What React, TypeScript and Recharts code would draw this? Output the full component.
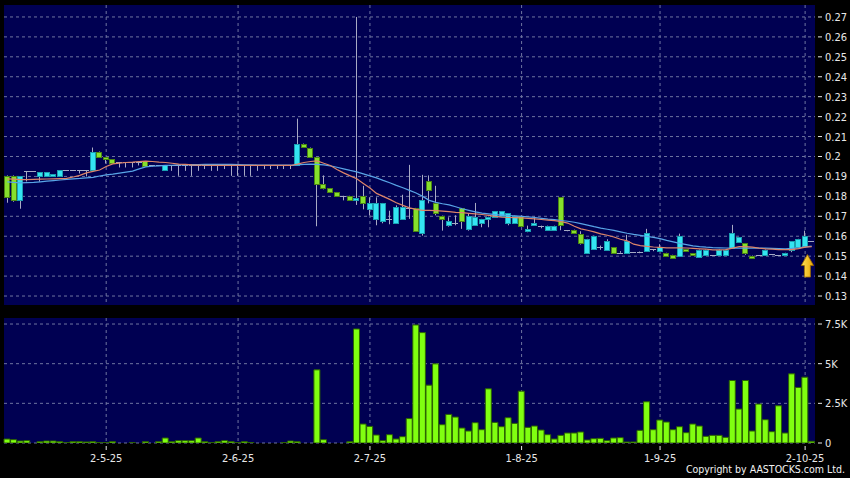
import React from 'react';
import { ComposedChart, BarChart, Bar, Line, XAxis, YAxis, CartesianGrid, ReferenceDot } from 'recharts';

// daily OHLC (index 0 = first candle on the left)
const opens = [
  0.190, 0.190, 0.178, 0.1925, 0.1925, 0.190, 0.190, 0.190, 0.190, 0.193,
  0.193, 0.193, 0.193, 0.193, 0.2025, 0.1995, 0.1985, 0.197, 0.197, 0.197,
  0.197, 0.1975, 0.1955, 0.1955, 0.193, 0.1957, 0.1957, 0.1957, 0.1957, 0.1957,
  0.1957, 0.1957, 0.1957, 0.1957, 0.1957, 0.1957, 0.1957, 0.1957, 0.1957, 0.1957,
  0.1957, 0.1957, 0.1957, 0.1957, 0.1955, 0.2065, 0.2045, 0.1997, 0.1863, 0.1842,
  0.1822, 0.1803, 0.1803, 0.1783, 0.1802, 0.1735, 0.1687, 0.1678, 0.1685, 0.1667,
  0.1687, 0.174, 0.1742, 0.1617, 0.1875, 0.1765, 0.1703, 0.1657, 0.1668, 0.1742,
  0.1635, 0.1657, 0.1665, 0.1685, 0.1695, 0.1703, 0.1665, 0.1665, 0.1703, 0.1625,
  0.1655, 0.165, 0.1632, 0.1632, 0.1795, 0.163, 0.1633, 0.1612, 0.1517, 0.1537,
  0.1545, 0.1533, 0.1545, 0.1517, 0.1517, 0.1523, 0.1523, 0.1525, 0.1535, 0.1525,
  0.1517, 0.1507, 0.1503, 0.1535, 0.1515, 0.1495, 0.1507, 0.1507, 0.1507, 0.1507,
  0.1542, 0.1573, 0.1565, 0.1503, 0.1507, 0.1507, 0.151, 0.1507, 0.1507, 0.1533,
  0.1545, 0.1553, 0.1577,
];
const highs = [
  0.1905, 0.1905, 0.190, 0.1925, 0.1925, 0.192, 0.192, 0.191, 0.193, 0.193,
  0.193, 0.193, 0.193, 0.2045, 0.2025, 0.1995, 0.1985, 0.197, 0.197, 0.197,
  0.197, 0.1975, 0.1955, 0.1955, 0.1957, 0.1957, 0.1957, 0.1957, 0.1957, 0.1957,
  0.1957, 0.1957, 0.1957, 0.1957, 0.1957, 0.1957, 0.1957, 0.1957, 0.1957, 0.1957,
  0.1957, 0.1957, 0.1957, 0.1957, 0.219, 0.2065, 0.2045, 0.1997, 0.1905, 0.1842,
  0.1822, 0.1803, 0.1803, 0.270, 0.1853, 0.1795, 0.1795, 0.1767, 0.1728, 0.1755,
  0.1808, 0.1958, 0.1742, 0.1908, 0.1905, 0.1853, 0.1703, 0.1695, 0.1705, 0.1742,
  0.1712, 0.1767, 0.1687, 0.1698, 0.1725, 0.1725, 0.1715, 0.1703, 0.1703, 0.1653,
  0.1698, 0.1653, 0.1653, 0.1653, 0.1795, 0.163, 0.1633, 0.1625, 0.1587, 0.1603,
  0.1553, 0.1585, 0.1545, 0.1525, 0.1607, 0.1523, 0.1523, 0.1637, 0.1535, 0.156,
  0.1517, 0.1507, 0.1613, 0.1535, 0.1515, 0.1533, 0.1533, 0.1507, 0.1533, 0.1533,
  0.1657, 0.1595, 0.1565, 0.1503, 0.1507, 0.1533, 0.151, 0.1507, 0.1517, 0.1575,
  0.1587, 0.1628, 0.1577,
];
const lows = [
  0.1768, 0.1773, 0.1738, 0.1875, 0.1925, 0.1873, 0.190, 0.190, 0.190, 0.193,
  0.193, 0.1915, 0.190, 0.1925, 0.1995, 0.1965, 0.1965, 0.1945, 0.1945, 0.1945,
  0.1955, 0.195, 0.195, 0.1952, 0.1928, 0.1928, 0.1903, 0.1928, 0.1903, 0.1928,
  0.1937, 0.1928, 0.1928, 0.1937, 0.1903, 0.1903, 0.1903, 0.1903, 0.1928, 0.1937,
  0.1937, 0.1937, 0.1937, 0.1937, 0.1955, 0.2048, 0.1998, 0.165, 0.1835, 0.1822,
  0.1803, 0.178, 0.1783, 0.1757, 0.1735, 0.1705, 0.1655, 0.1665, 0.166, 0.1665,
  0.1687, 0.1687, 0.1625, 0.1603, 0.1765, 0.1705, 0.1628, 0.1648, 0.1655, 0.1637,
  0.1628, 0.1653, 0.1645, 0.1645, 0.1695, 0.170, 0.1655, 0.1665, 0.1653, 0.162,
  0.1653, 0.164, 0.1632, 0.1632, 0.163, 0.1625, 0.1615, 0.1558, 0.1517, 0.1537,
  0.1532, 0.1533, 0.1517, 0.1517, 0.1517, 0.1523, 0.1515, 0.1525, 0.1525, 0.1522,
  0.1503, 0.1493, 0.1503, 0.1525, 0.1507, 0.1495, 0.1507, 0.1507, 0.1507, 0.1507,
  0.1542, 0.1573, 0.1507, 0.1493, 0.1507, 0.1507, 0.151, 0.1507, 0.1507, 0.152,
  0.1545, 0.1553, 0.1577,
];
const closes = [
  0.1798, 0.178, 0.190, 0.1925, 0.1925, 0.192, 0.192, 0.191, 0.193, 0.193,
  0.193, 0.193, 0.193, 0.2025, 0.1995, 0.1985, 0.1965, 0.197, 0.197, 0.197,
  0.197, 0.1952, 0.1955, 0.1955, 0.1955, 0.1957, 0.1957, 0.1957, 0.1957, 0.1957,
  0.1957, 0.1957, 0.1957, 0.1957, 0.1957, 0.1957, 0.1957, 0.1957, 0.1957, 0.1957,
  0.1957, 0.1957, 0.1957, 0.1957, 0.2065, 0.2048, 0.1998, 0.1863, 0.1842, 0.1822,
  0.1803, 0.1803, 0.1783, 0.1792, 0.1765, 0.1767, 0.1767, 0.1767, 0.1685, 0.1745,
  0.1745, 0.174, 0.1625, 0.1783, 0.1833, 0.1718, 0.1687, 0.1675, 0.1668, 0.1675,
  0.1703, 0.1695, 0.1687, 0.1695, 0.1725, 0.1725, 0.1715, 0.1703, 0.1653, 0.1637,
  0.1667, 0.165, 0.1653, 0.1653, 0.1658, 0.163, 0.1615, 0.1565, 0.1587, 0.1603,
  0.1545, 0.1578, 0.1517, 0.1517, 0.1578, 0.1523, 0.1523, 0.1615, 0.1535, 0.1545,
  0.1503, 0.1493, 0.1603, 0.1525, 0.1507, 0.1533, 0.1533, 0.1507, 0.1533, 0.1533,
  0.1617, 0.1595, 0.1515, 0.1493, 0.1507, 0.1533, 0.151, 0.1507, 0.1517, 0.1575,
  0.1587, 0.1603, 0.1577,
];
const volumes = [
  250, 210, 125, 147, 0, 85, 125, 125, 85, 20,
  85, 85, 63, 85, 20, 20, 85, 0, 0, 20,
  0, 85, 0, 85, 315, 85, 147, 147, 147, 315,
  85, 20, 85, 147, 85, 20, 85, 20, 0, 0,
  0, 0, 20, 125, 85, 0, 0, 4611, 210, 0,
  0, 0, 85, 7189, 1195, 1048, 503, 147, 524, 252,
  398, 1540, 7441, 6959, 3647, 4989, 1153, 1803, 1635, 943,
  755, 1279, 838, 3416, 1300, 1027, 1593, 1237, 3269, 985,
  1069, 817, 524, 252, 482, 629, 629, 692, 189, 272,
  293, 147, 315, 335, 63, 63, 796, 2599, 838, 1446,
  1320, 838, 1027, 650, 1195, 1069, 419, 482, 482, 356,
  3940, 2138, 3940, 755, 2452, 1467, 713, 2347, 629, 4360,
  3500, 4150, 105,
];
// moving average lines as drawn (orange = short, blue = long)
const maShort = [
  0.1888, 0.1886, 0.1884, 0.1884, 0.1885, 0.1886, 0.1887, 0.1888, 0.1889, 0.1890,
  0.1897, 0.1905, 0.1918, 0.1925, 0.1932, 0.1950, 0.1963, 0.1967, 0.1970, 0.1972,
  0.1975, 0.1977, 0.1975, 0.1972, 0.1970, 0.1966, 0.1962, 0.1960, 0.1958, 0.1957,
  0.1956, 0.1955, 0.1955, 0.1955, 0.1955, 0.1955, 0.1955, 0.1955, 0.1955, 0.1955,
  0.1955, 0.1955, 0.1955, 0.1955, 0.1962, 0.1970, 0.1975, 0.1978, 0.1966, 0.1955,
  0.1935, 0.1918, 0.1903, 0.1888, 0.1865, 0.1842, 0.1815, 0.1800, 0.1785, 0.1768,
  0.1755, 0.1742, 0.1735, 0.1730, 0.1730, 0.1728, 0.1726, 0.1723, 0.1720, 0.1718,
  0.1715, 0.1712, 0.1709, 0.1705, 0.1700, 0.1696, 0.1694, 0.1693, 0.1692, 0.1690,
  0.1687, 0.1684, 0.1681, 0.1678, 0.1673, 0.1666, 0.1650, 0.1637, 0.1630, 0.1622,
  0.1612, 0.1605, 0.1596, 0.1585, 0.1577, 0.1560, 0.1553, 0.1549, 0.1546, 0.1544,
  0.1542, 0.1542, 0.1542, 0.1541, 0.1539, 0.1537, 0.1535, 0.1532, 0.1532, 0.1533,
  0.1540, 0.1548, 0.1548, 0.1545, 0.1540, 0.1537, 0.1535, 0.1533, 0.1533, 0.1533,
  0.1538, 0.1545, 0.1548,
];
const maLong = [
  0.1873, 0.1870, 0.1868, 0.1869, 0.1870, 0.1873, 0.1876, 0.1879, 0.1882, 0.1885,
  0.1888, 0.1890, 0.1893, 0.1895, 0.1902, 0.1908, 0.1912, 0.1917, 0.1922, 0.1927,
  0.1938, 0.1948, 0.1951, 0.1953, 0.1955, 0.1956, 0.1958, 0.1958, 0.1959, 0.1959,
  0.1960, 0.1960, 0.1960, 0.1960, 0.1960, 0.1959, 0.1958, 0.1958, 0.1957, 0.1957,
  0.1957, 0.1957, 0.1957, 0.1957, 0.1958, 0.1960, 0.1962, 0.1960, 0.1958, 0.1953,
  0.1946, 0.1938, 0.1930, 0.1923, 0.1913, 0.1903, 0.1893, 0.1880, 0.1868, 0.1855,
  0.1843, 0.1830, 0.1817, 0.1800, 0.1780, 0.1770, 0.1763, 0.1757, 0.1748, 0.1738,
  0.1730, 0.1722, 0.1716, 0.1712, 0.1708, 0.1706, 0.1704, 0.1702, 0.1700, 0.1697,
  0.1694, 0.1690, 0.1686, 0.1683, 0.1679, 0.1675, 0.1670, 0.1663, 0.1656, 0.1648,
  0.1641, 0.1635, 0.1629, 0.1622, 0.1615, 0.1609, 0.1604, 0.1599, 0.1594, 0.1588,
  0.1579, 0.1572, 0.1564, 0.1558, 0.1552, 0.1548, 0.1545, 0.1543, 0.1542, 0.1541,
  0.1540, 0.1540, 0.1540, 0.1540, 0.1540, 0.1540, 0.1539, 0.1538, 0.1537, 0.1539,
  0.1542, 0.1547, 0.1550,
];

const dateTicks = [15, 35, 55, 78, 99, 121];
const dateLabels = ['2-5-25', '2-6-25', '2-7-25', '1-8-25', '1-9-25', '2-10-25'];
const priceTicks = [0.13, 0.14, 0.15, 0.16, 0.17, 0.18, 0.19, 0.2, 0.21, 0.22, 0.23, 0.24, 0.25, 0.26, 0.27];
const volumeTicks = [0, 2500, 5000, 7500];
const volumeLabels = ['0', '2.5K', '5K', '7.5K'];

const data = opens.map((o, i) => ({
  i, o, h: highs[i], l: lows[i], c: closes[i], v: volumes[i], maS: maShort[i], maL: maLong[i],
}));

const NAVY = '#000052';
const GRID = '#6e74a0';
const CYAN = '#34e4f2';
const CYAN_EDGE = '#1a9fb0';
const LIME = '#86e02c';
const LIME_EDGE = '#4a8414';
const DOJI = '#a4aac4';
const WICK = '#a8aac4';
const VOL = '#80ff10';
const VOL_EDGE = '#2c6400';
const LABEL = '#e8e8e8';
const FONT = '"DejaVu Sans Condensed", "DejaVu Sans", sans-serif';

function Candle(props: any) {
  const { x, y, width, height, payload } = props;
  if (!payload) return null;
  const { o, h, l, c } = payload;
  const top = Math.min(y, y + height);
  const span = Math.abs(height);
  const yOf = (v: number) => (h > l ? top + ((h - v) / (h - l)) * span : top);
  const mid = Math.floor(x + width / 2) + 0.5;
  const left = Math.round(x);
  const w = Math.round(width);
  if (o === c) {
    const yy = Math.round(yOf(o)) + 0.5;
    return (
      <g>
        {span > 0 && <line x1={mid} x2={mid} y1={top} y2={top + span} stroke={WICK} />}
        <line x1={left} x2={left + w} y1={yy} y2={yy} stroke={DOJI} />
      </g>
    );
  }
  const up = c > o;
  const bTop = Math.round(yOf(Math.max(o, c)));
  const bBot = Math.round(yOf(Math.min(o, c)));
  return (
    <g>
      <line x1={mid} x2={mid} y1={top} y2={top + span} stroke={WICK} />
      <rect x={left + 0.5} y={bTop + 0.5} width={w - 1} height={Math.max(1, bBot - bTop)}
        fill={up ? CYAN : LIME} stroke={up ? CYAN_EDGE : LIME_EDGE} />
    </g>
  );
}

function Arrow(props: any) {
  const { cx, cy } = props;
  const x = cx - 4.3;
  const pts = [
    [x, cy], [x + 6.2, cy + 11], [x + 3, cy + 11], [x + 3, cy + 22.5],
    [x - 3, cy + 22.5], [x - 3, cy + 11], [x - 6.2, cy + 11],
  ].map((p) => p.join(',')).join(' ');
  return (
    <g>
      <defs>
        <linearGradient id="gold" x1="0" y1="0" x2="1" y2="0">
          <stop offset="0%" stopColor="#ffe45a" />
          <stop offset="100%" stopColor="#e8a400" />
        </linearGradient>
      </defs>
      <polygon points={pts} fill="url(#gold)" stroke="#9c6a00" strokeWidth={0.8} />
    </g>
  );
}

function SideTick(props: any) {
  const { x, y, payload, labels, ticks } = props;
  const v = payload.value;
  const text = labels ? labels[ticks.indexOf(v)] : String(+Number(v).toFixed(2));
  return (
    <g>
      <line x1={x + 3} x2={x + 7} y1={y} y2={y} stroke={LABEL} />
      <text x={x + 10} y={y} dy={4} fill={LABEL} fontSize={11} fontFamily={FONT}>{text}</text>
    </g>
  );
}

function DateTick(props: any) {
  const { x, y, payload } = props;
  const k = dateTicks.indexOf(payload.value);
  if (k < 0) return null;
  return (
    <g>
      <line x1={x} x2={x} y1={y + 3} y2={y + 7} stroke={LABEL} />
      <text x={x} y={y + 18.5} textAnchor="middle" fill={LABEL} fontSize={11} fontFamily={FONT}>
        {dateLabels[k]}
      </text>
    </g>
  );
}

const panel = (top: number, height: number): React.CSSProperties => ({
  position: 'absolute', left: 4, top, width: 811, height, background: NAVY,
});

export default function App() {
  return (
    <div style={{ position: 'absolute', left: 0, top: 0, width: 850, height: 478, background: '#000', overflow: 'hidden' }}>
      <div style={panel(5, 300)} />
      <div style={panel(318, 125)} />
      <div style={{ position: 'absolute', left: 0, top: 0 }}>
        <ComposedChart width={850} height={310} data={data} margin={{ top: 5, right: 0, bottom: 5, left: 4 }}>
          <CartesianGrid stroke={GRID} strokeDasharray="3 3" syncWithTicks />
          <XAxis dataKey="i" type="category" hide ticks={dateTicks} interval={0} />
          <YAxis orientation="right" width={35} domain={[0.1255, 0.276]} ticks={priceTicks} interval={0}
            allowDataOverflow axisLine={false} tickLine={false} tickSize={0} tickMargin={0}
            tick={<SideTick ticks={priceTicks} />} />
          <Line dataKey="maL" stroke="#58a4e6" strokeWidth={1.2} dot={false} isAnimationActive={false} />
          <Line dataKey="maS" stroke="#dc8468" strokeWidth={1.2} dot={false} isAnimationActive={false} />
          <Bar dataKey={(d: any) => [d.l, d.h]} shape={Candle} barSize={6} isAnimationActive={false} />
          <ReferenceDot x={122} y={0.1508} shape={Arrow} />
        </ComposedChart>
      </div>
      <div style={{ position: 'absolute', left: 0, top: 313 }}>
        <BarChart width={850} height={155} data={data} margin={{ top: 5, right: 0, bottom: 0, left: 4 }}>
          <CartesianGrid stroke={GRID} strokeDasharray="3 3" syncWithTicks />
          <XAxis dataKey="i" type="category" ticks={dateTicks} interval={0} height={25}
            axisLine={false} tickLine={false} tickSize={0} tickMargin={0} tick={<DateTick />} />
          <YAxis orientation="right" width={35} domain={[0, 7880]} ticks={volumeTicks} interval={0}
            allowDataOverflow axisLine={false} tickLine={false} tickSize={0} tickMargin={0}
            tick={<SideTick ticks={volumeTicks} labels={volumeLabels} />} />
          <Bar dataKey="v" fill={VOL} stroke={VOL_EDGE} strokeWidth={1} barSize={6} isAnimationActive={false} />
        </BarChart>
      </div>
      <div style={{ position: 'absolute', right: 5, top: 463, color: '#f2f2f2', fontSize: 10.5, fontFamily: FONT }}>
        Copyright by AASTOCKS.com Ltd.
      </div>
    </div>
  );
}
